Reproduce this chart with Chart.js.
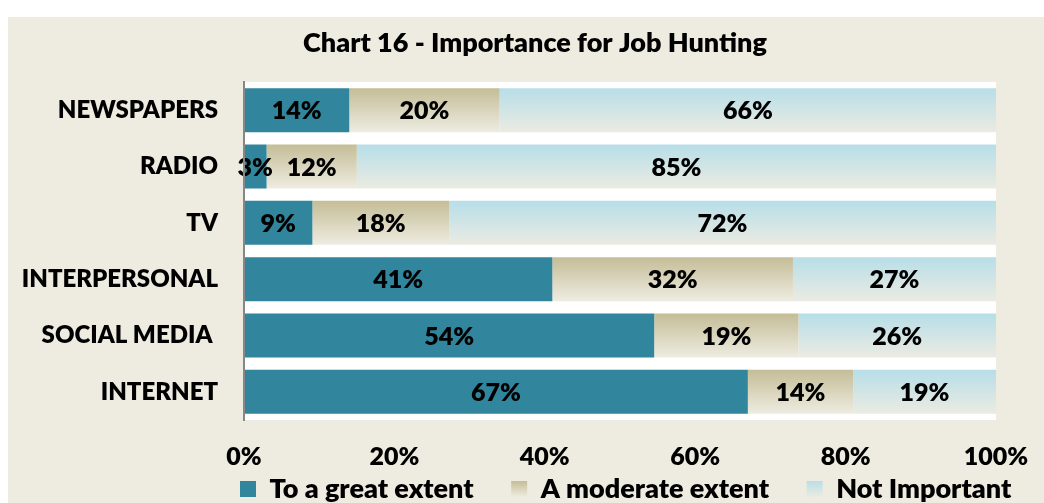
<!DOCTYPE html>
<html><head><meta charset="utf-8">
<script src="https://cdn.jsdelivr.net/npm/chart.js@4/dist/chart.umd.min.js"></script>
<style>html,body{margin:0;padding:0;background:#fff;overflow:hidden}#wrap{width:1044px;height:503px;position:relative}canvas{display:block}</style>
</head><body><div id="wrap"><canvas id="c" width="1044" height="503"></canvas></div>
<script>
// ---- data ----
const categories = ['NEWSPAPERS', 'RADIO', 'TV', 'INTERPERSONAL', 'SOCIAL MEDIA ', 'INTERNET'];
const greatExtent = [14, 3, 9, 41, 54, 67];
const moderateExtent = [20, 12, 18, 32, 19, 14];
const notImportant = [66, 85, 72, 27, 26, 19];
const seriesNames = ['To a great extent', 'A moderate extent', 'Not Important'];
const xTickStep = 20;
const chartTitle = 'Chart 16 - Importance for Job Hunting';

// ---- styles ----
const FONT = 'Lato';
const W = 800;
const TEAL = '#31859C';
const BEIGE_TOP = '#C4BD97', BEIGE_BOT = '#EEECE1';
const BLUE_TOP = '#B7DEE8', BLUE_BOT = '#EBEBE2';
const BG = '#EEECE1';
const BAR_PCT = 0.78;
const LEG_PAD = 37.5;
const LEG_FONT = 27;
const LEG_X = 240, LEG_BOX_TOP = 481;
const TITLE_SHIFT = 37;
const X_AXIS_H = 60;

const raw = [greatExtent, moderateExtent, notImportant];
// 100% stacked: each row normalised to its own total (as the source chart does)
const totals = categories.map((_, i) => raw.reduce((s, arr) => s + arr[i], 0));
const shares = raw.map(arr => arr.map((v, i) => v / totals[i] * 100));

function barGradient(top, bot) {
  return function (ctx) {
    const chart = ctx.chart;
    const ys = chart.scales && chart.scales.y;
    if (!ys || ctx.dataIndex === undefined || !isFinite(ys.height) || ys.height <= 0) return top;
    const center = ys.getPixelForValue(ctx.dataIndex);
    const half = ys.height / categories.length * BAR_PCT / 2;
    const g = chart.ctx.createLinearGradient(0, center - half, 0, center + half);
    g.addColorStop(0, top);
    g.addColorStop(1, bot);
    return g;
  };
}

const bgPlugin = {
  id: 'bg',
  beforeDraw(chart) {
    const c = chart.ctx, a = chart.chartArea;
    c.save();
    c.fillStyle = '#FFFFFF';
    c.fillRect(0, 0, chart.width, chart.height);
    c.fillStyle = BG;
    c.fillRect(8, 17, chart.width - 8, chart.height - 17);
    c.fillStyle = '#FFFFFF';
    c.fillRect(a.left, a.top, a.right - a.left, a.bottom - a.top);
    c.restore();
  }
};

const placeBlocks = {
  id: 'placeBlocks',
  afterLayout(chart) {
    const lg = chart.legend;
    if (lg) {
      const w = lg.right - lg.left, h = lg.bottom - lg.top;
      lg.left = LEG_X - LEG_PAD; lg.right = lg.left + w;
      lg.top = LEG_BOX_TOP - (LEG_FONT - 16) / 2 - LEG_PAD; lg.bottom = lg.top + h;
    }
    const tb = chart.titleBlock;
    if (tb) { tb.left += TITLE_SHIFT; tb.right += TITLE_SHIFT; }
  }
};

const valueLabels = {
  id: 'valueLabels',
  afterDatasetsDraw(chart) {
    const c = chart.ctx;
    c.save();
    c.font = W + ' 25px ' + FONT;
    c.fillStyle = '#000';
    c.textAlign = 'center';
    c.textBaseline = 'middle';
    chart.data.datasets.forEach((ds, di) => {
      const meta = chart.getDatasetMeta(di);
      meta.data.forEach((el, i) => {
        const x = (el.x + el.base) / 2;
        c.fillText(raw[di][i] + '%', x, el.y + 1);
      });
    });
    c.restore();
  }
};

new Chart(document.getElementById('c'), {
  type: 'bar',
  data: {
    labels: categories,
    datasets: [
      { label: seriesNames[0], data: shares[0], backgroundColor: TEAL },
      { label: seriesNames[1], data: shares[1], backgroundColor: barGradient(BEIGE_TOP, BEIGE_BOT) },
      { label: seriesNames[2], data: shares[2], backgroundColor: barGradient(BLUE_TOP, BLUE_BOT) }
    ]
  },
  options: {
    indexAxis: 'y',
    responsive: false,
    animation: false,
    devicePixelRatio: 1,
    datasets: { bar: { barPercentage: BAR_PCT, categoryPercentage: 1, borderWidth: 0 } },
    layout: { padding: { left: 0, right: 48, top: 0, bottom: -(420 + X_AXIS_H + LEG_FONT + LEG_PAD + 10 - 503) } },
    scales: {
      x: {
        stacked: true, min: 0, max: 100,
        grid: { display: false, drawTicks: true, tickLength: 22, color: 'rgba(0,0,0,0)' },
        border: { display: false },
        ticks: { stepSize: xTickStep, padding: 0, color: '#000', font: { family: FONT, weight: W, size: 25 }, callback: v => v + '%' },
        afterFit(s) { s.height = X_AXIS_H; }
      },
      y: {
        stacked: true,
        grid: { display: false, drawTicks: false },
        border: { display: true, color: '#878787', width: 2, z: 1 },
        ticks: { padding: 26, color: '#000', font: { family: FONT, weight: W, size: 24 } },
        afterFit(s) { s.width = 244; }
      }
    },
    plugins: {
      title: {
        display: true, text: chartTitle, color: '#000',
        font: { family: FONT, weight: W, size: 27 },
        padding: { top: 26.8, bottom: 22.8 }
      },
      legend: {
        position: 'bottom', align: 'start',
        labels: {
          boxWidth: 16, boxHeight: 16, padding: LEG_PAD, color: '#000',
          font: { family: FONT, weight: W, size: LEG_FONT },
          generateLabels(chart) {
            const items = Chart.defaults.plugins.legend.labels.generateLabels(chart);
            const grads = [null, [BEIGE_TOP, BEIGE_BOT], [BLUE_TOP, BLUE_BOT]];
            items.forEach((it, i) => {
              it.lineWidth = 0;
              it.strokeStyle = 'rgba(0,0,0,0)';
              if (grads[i]) {
                const g = chart.ctx.createLinearGradient(0, LEG_BOX_TOP, 0, LEG_BOX_TOP + 16);
                g.addColorStop(0, grads[i][0]);
                g.addColorStop(1, grads[i][1]);
                it.fillStyle = g;
              } else it.fillStyle = TEAL;
            });
            return items;
          }
        }
      },
      tooltip: { enabled: false }
    }
  },
  plugins: [bgPlugin, placeBlocks, valueLabels]
});
</script></body></html>
